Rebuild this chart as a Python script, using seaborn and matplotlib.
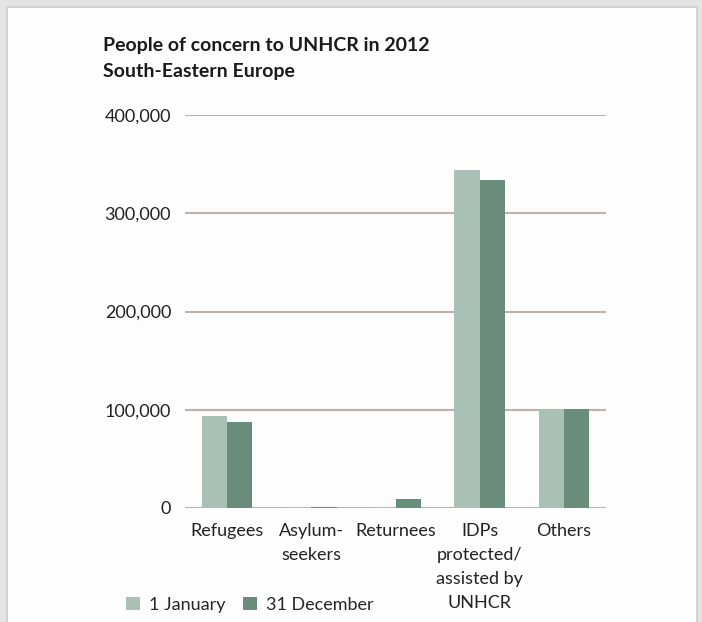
import matplotlib
matplotlib.use("Agg")
import matplotlib.pyplot as plt
import matplotlib.patches as mpatches
import seaborn as sns
import pandas as pd
from matplotlib.ticker import FuncFormatter

categories = ["Refugees", "Asylum-\nseekers", "Returnees", "IDPs\nprotected/\nassisted by\nUNHCR", "Others"]
jan_values = [94000, 900, 1500, 344000, 100500]
dec_values = [88000, 1000, 9500, 334000, 100500]
series = ["1 January", "31 December"]
yticks = [0, 100000, 200000, 300000, 400000]

df = pd.DataFrame({
    "category": categories * 2,
    "value": jan_values + dec_values,
    "series": [series[0]] * len(categories) + [series[1]] * len(categories),
})

sns.set_style("white")
FONT = ["Lato", "DejaVu Sans"]
plt.rcParams["font.family"] = FONT

W, H = 702, 622
fig = plt.figure(figsize=(W / 100, H / 100), dpi=100)
fig.patch.set_facecolor("#e4e4e4")
fig.patches.append(mpatches.Rectangle((6 / W, 0), (698 - 6) / W, (H - 6) / H,
                                      transform=fig.transFigure, facecolor="#d2d2d2",
                                      edgecolor="none", zorder=-6))
fig.patches.append(mpatches.Rectangle((8 / W, 0), (696 - 8) / W, (H - 8) / H,
                                      transform=fig.transFigure, facecolor="#fdfdfd",
                                      edgecolor="none", zorder=-5))

ax = fig.add_axes([185 / W, 1 - 508 / H, (606 - 185) / W, (508 - 115) / H])
ax.set_facecolor("none")

palette = {series[0]: "#a8c0b5", series[1]: "#6a8c7a"}
sns.barplot(data=df, x="category", y="value", hue="series", palette=palette,
            width=0.6, gap=0, saturation=1, ax=ax, legend=True, zorder=3,
            linewidth=0, edgecolor="none")

ax.set_xlim(-0.5, len(categories) - 0.5)
ax.set_ylim(0, 400000)
ax.set_yticks(yticks)
ax.yaxis.set_major_formatter(FuncFormatter(lambda v, p: f"{int(v):,}"))
ax.grid(axis="y", color="#bcb4aa", linewidth=1.5, zorder=1)
ax.grid(axis="x", visible=False)
ax.set_axisbelow(True)
for s in ax.spines.values():
    s.set_visible(False)
ax.set_xlabel("")
ax.set_ylabel("")
ax.tick_params(axis="y", length=0, pad=10, labelsize=13, colors="#222222")
ax.tick_params(axis="x", length=0, pad=11, labelsize=13, colors="#222222")
for lbl in ax.get_xticklabels():
    lbl.set_linespacing(1.6)
    lbl.set_verticalalignment("top")

handles, labels = ax.get_legend_handles_labels()
ax.get_legend().remove()
fig.legend(handles, labels, loc="center left", bbox_to_anchor=(119 / W, 1 - 605 / H),
           ncol=2, frameon=False, fontsize=13, handlelength=0.75, handleheight=0.75,
           handletextpad=0.5, columnspacing=1.0, borderaxespad=0)

fig.text(103 / W, 1 - 45 / H, "People of concern to UNHCR in 2012", fontsize=14,
         fontweight="bold", color="#1a1a1a", va="center", ha="left")
fig.text(103 / W, 1 - 72 / H, "South-Eastern Europe", fontsize=14,
         fontweight="bold", color="#1a1a1a", va="center", ha="left")

fig.savefig("out.png", dpi=100, facecolor=fig.get_facecolor())
